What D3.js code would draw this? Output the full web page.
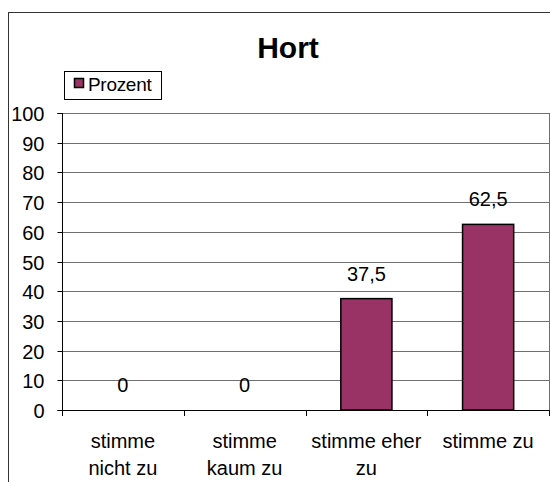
<!DOCTYPE html>
<html>
<head>
<meta charset="utf-8">
<script src="https://cdn.jsdelivr.net/npm/d3@7"></script>
<style>
  html, body { margin: 0; padding: 0; background: #fff; }
  svg { display: block; }
  text { font-family: "Liberation Sans", Arial, sans-serif; fill: #000; }
</style>
</head>
<body>
<svg id="chart" width="550" height="482"></svg>
<script>
const title = "Hort";
const seriesName = "Prozent";
const categories = [["stimme", "nicht zu"], ["stimme", "kaum zu"], ["stimme eher", "zu"], ["stimme zu"]];
const values = [0, 0, 37.5, 62.5];
const valueLabels = ["0", "0", "37,5", "62,5"];
const yTicks = [0, 10, 20, 30, 40, 50, 60, 70, 80, 90, 100];

const svg = d3.select("#chart");
const plot = { left: 62, right: 549, top: 113, bottom: 410 };
const barColor = "#993366";
const fs = 20;

// outer frame
svg.append("rect").attr("x", 8.5).attr("y", 12.5).attr("width", 600).attr("height", 500)
  .attr("fill", "none").attr("stroke", "#333").attr("stroke-width", 1);

const y = d3.scaleLinear().domain([0, 100]).range([plot.bottom, plot.top]);
const idx = categories.map((d, i) => i);
const x = d3.scaleBand().domain(idx).range([plot.left, plot.right]).paddingInner(0.58).paddingOuter(0.29);

// gridlines
svg.append("g").selectAll("line").data(yTicks.filter(t => t > 0)).join("line")
  .attr("x1", plot.left).attr("x2", plot.right)
  .attr("y1", d => Math.round(y(d)) + 0.5).attr("y2", d => Math.round(y(d)) + 0.5)
  .attr("stroke", "#707070").attr("stroke-width", 1);

// plot right border
svg.append("line").attr("x1", plot.right + 0.5).attr("x2", plot.right + 0.5)
  .attr("y1", plot.top).attr("y2", plot.bottom).attr("stroke", "#707070");

// y axis
const yAxis = d3.axisLeft(y).tickValues(yTicks).tickSize(5).tickPadding(13).tickFormat(d3.format("d"));
const gy = svg.append("g").attr("transform", `translate(${plot.left + 0.5},0.5)`).call(yAxis);
gy.select(".domain").attr("stroke", "#000").attr("d", `M-5,${Math.round(y(100))}H0V${Math.round(y(0))}H-5`);
gy.selectAll(".tick line").attr("stroke", "#000");
gy.selectAll(".tick").attr("transform", d => `translate(0,${Math.round(y(d))})`);
gy.selectAll("text").attr("font-size", fs).attr("font-family", "'Liberation Sans', Arial, sans-serif")
  .attr("fill", "#000").attr("dy", "0.36em");

// bars
svg.append("g").selectAll("rect").data(values).join("rect")
  .attr("x", (d, i) => x(i)).attr("width", x.bandwidth())
  .attr("y", d => y(d)).attr("height", d => y(0) - y(d))
  .attr("fill", barColor).attr("stroke", "#000").attr("stroke-width", 1.5)
  .style("display", d => d > 0 ? null : "none");

// x axis line + ticks at band boundaries
svg.append("line").attr("x1", plot.left).attr("x2", plot.right + 1)
  .attr("y1", plot.bottom + 0.5).attr("y2", plot.bottom + 0.5).attr("stroke", "#000");
const step = x.step();
svg.append("g").selectAll("line").data(d3.range(categories.length + 1)).join("line")
  .attr("x1", d => Math.round(plot.left + d * step) + 0.5).attr("x2", d => Math.round(plot.left + d * step) + 0.5)
  .attr("y1", plot.bottom).attr("y2", plot.bottom + 6).attr("stroke", "#000");

// category labels
const cl = svg.append("g").selectAll("text").data(categories).join("text")
  .attr("text-anchor", "middle").attr("font-size", fs)
  .attr("x", (d, i) => x(i) + x.bandwidth() / 2).attr("y", 448);
cl.selectAll("tspan").data(d => d).join("tspan")
  .attr("x", function() { return this.parentNode.getAttribute("x"); })
  .attr("dy", (d, j) => j === 0 ? 0 : 27).text(d => d);

// value labels
svg.append("g").selectAll("text").data(values).join("text")
  .attr("text-anchor", "middle").attr("font-size", fs)
  .attr("x", (d, i) => x(i) + x.bandwidth() / 2).attr("y", d => y(d) - 18)
  .text((d, i) => valueLabels[i]);

// title
svg.append("text").attr("x", 288).attr("y", 58).attr("text-anchor", "middle")
  .attr("font-size", 30).attr("font-weight", "bold").text(title);

// legend
const lg = svg.append("g");
lg.append("rect").attr("x", 64.5).attr("y", 71.5).attr("width", 97).attr("height", 28)
  .attr("fill", "#fff").attr("stroke", "#000");
lg.append("rect").attr("x", 74.5).attr("y", 78.5).attr("width", 9).attr("height", 9)
  .attr("fill", barColor).attr("stroke", "#000").attr("stroke-width", 1.5);
lg.append("text").attr("x", 88).attr("y", 91).attr("font-size", 19).attr("letter-spacing", -0.3).text(seriesName);
</script>
</body>
</html>
